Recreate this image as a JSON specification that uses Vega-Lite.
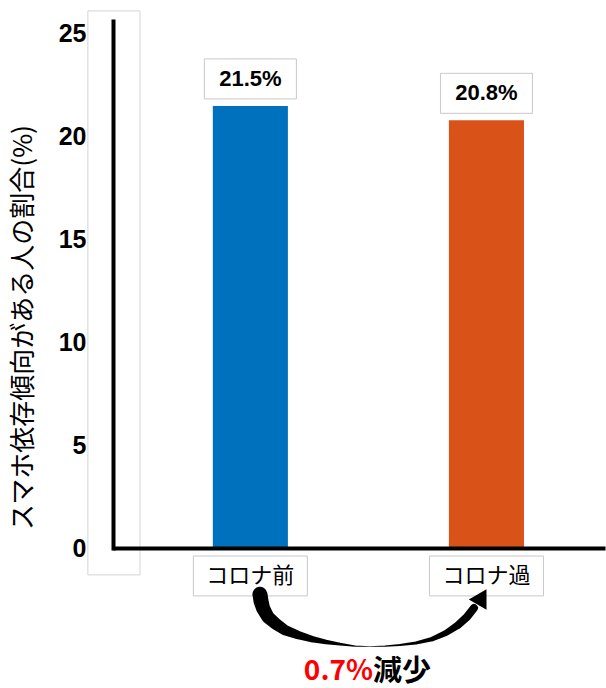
{
  "$schema": "https://vega.github.io/schema/vega-lite/v6.json",
  "width": 492,
  "height": 527,
  "autosize": "none",
  "padding": {"left": 113, "top": 21, "right": 1, "bottom": 140},
  "background": "white",
  "config": {"view": {"stroke": null}},
  "datasets": {
    "bars": [
      {"period": "コロナ前", "value": 21.5, "label": "21.5%"},
      {"period": "コロナ過", "value": 20.8, "label": "20.8%"}
    ],
    "arrow": [
      {"u": 0.040, "v": -2.25, "thickness": 15},
      {"u": 0.045, "v": -2.60, "thickness": 15},
      {"u": 0.053, "v": -2.92, "thickness": 14},
      {"u": 0.074, "v": -3.36, "thickness": 13},
      {"u": 0.108, "v": -3.70, "thickness": 12},
      {"u": 0.146, "v": -3.99, "thickness": 10.5},
      {"u": 0.201, "v": -4.23, "thickness": 8.5},
      {"u": 0.261, "v": -4.43, "thickness": 6.5},
      {"u": 0.320, "v": -4.57, "thickness": 4.5},
      {"u": 0.379, "v": -4.67, "thickness": 2.8},
      {"u": 0.443, "v": -4.77, "thickness": 1.4},
      {"u": 0.506, "v": -4.79, "thickness": 0.6},
      {"u": 0.570, "v": -4.77, "thickness": 1.1},
      {"u": 0.633, "v": -4.72, "thickness": 1.9},
      {"u": 0.701, "v": -4.62, "thickness": 3},
      {"u": 0.769, "v": -4.43, "thickness": 4.5},
      {"u": 0.828, "v": -4.13, "thickness": 6},
      {"u": 0.879, "v": -3.75, "thickness": 7.5},
      {"u": 0.917, "v": -3.36, "thickness": 8},
      {"u": 0.947, "v": -2.92, "thickness": 8}
    ]
  },
  "resolve": {"scale": {"x": "independent"}, "axis": {"x": "independent"}},
  "layer": [
    {
      "data": {"name": "bars"},
      "encoding": {
        "x": {
          "field": "period",
          "type": "nominal",
          "sort": null,
          "scale": {"paddingInner": 0.682, "paddingOuter": 0.383, "align": 0.552},
          "axis": {"labels": false, "ticks": false, "tickSize": 0, "title": null, "domainColor": "black", "domainWidth": 4, "zindex": 1}
        }
      },
      "layer": [
        {
          "mark": {"type": "bar"},
          "encoding": {
            "y": {
              "field": "value",
              "type": "quantitative",
              "scale": {"domain": [0, 25.63], "nice": false, "zero": true},
              "axis": {
                "values": [0, 5, 10, 15, 20, 25],
                "ticks": false,
                "tickSize": 0,
                "grid": false,
                "domainColor": "black",
                "domainWidth": 4,
                "domainCap": "square",
                "labelFont": "Liberation Sans",
                "labelFontWeight": "bold",
                "labelFontSize": 25,
                "labelColor": "black",
                "labelPadding": 27,
                "title": "スマホ依存傾向がある人の割合(%)",
                "titleFont": "Noto Sans CJK JP",
                "titleFontSize": 26,
                "titleFontWeight": "normal",
                "titleColor": "black",
                "titleAngle": -90,
                "titleX": -90,
                "titleY": 306,
                "titleAlign": "center",
                "titleBaseline": "middle",
                "zindex": 1
              }
            },
            "color": {
              "field": "period",
              "type": "nominal",
              "scale": {"domain": ["コロナ前", "コロナ過"], "range": ["#0072BD", "#D95319"]},
              "legend": null
            }
          }
        },
        {
          "mark": {"type": "bar", "width": 92, "fill": "white", "stroke": "#c8c8c8", "strokeWidth": 1, "yOffset": -7, "y2Offset": -47},
          "encoding": {
            "y": {"field": "value", "type": "quantitative"},
            "y2": {"field": "value"}
          }
        },
        {
          "mark": {"type": "text", "font": "Liberation Sans", "fontWeight": "bold", "fontSize": 22, "color": "black", "baseline": "middle", "align": "center", "dy": -27},
          "encoding": {
            "y": {"field": "value", "type": "quantitative"},
            "text": {"field": "label"}
          }
        },
        {
          "mark": {"type": "bar", "width": 114, "fill": "white", "stroke": "#c8c8c8", "strokeWidth": 1},
          "encoding": {
            "y": {"datum": -0.39},
            "y2": {"datum": -2.33}
          }
        },
        {
          "mark": {"type": "text", "font": "Noto Sans CJK JP", "fontSize": 22, "color": "black", "baseline": "middle", "align": "center"},
          "encoding": {
            "y": {"datum": -1.36},
            "text": {"field": "period"}
          }
        }
      ]
    },
    {
      "data": {"values": [{}]},
      "layer": [
        {
          "mark": {"type": "rect", "fill": null, "fillOpacity": 0, "stroke": "#d4d4d4", "strokeWidth": 1},
          "encoding": {
            "x": {"datum": -0.689, "type": "quantitative", "scale": {"domain": [-0.5826, 1.5021], "nice": false, "zero": false}, "axis": null},
            "x2": {"datum": -0.468},
            "y": {"datum": 26.12, "type": "quantitative"},
            "y2": {"datum": -1.31}
          }
        },
        {
          "data": {"name": "arrow"},
          "mark": {"type": "trail", "color": "black"},
          "encoding": {
            "x": {"field": "u", "type": "quantitative", "scale": {"domain": [-0.5826, 1.5021], "nice": false, "zero": false}, "axis": null},
            "y": {"field": "v", "type": "quantitative"},
            "order": {"field": "u"},
            "size": {"field": "thickness", "type": "quantitative", "scale": null, "legend": null}
          }
        },
        {
          "mark": {"type": "point", "shape": "triangle", "filled": true, "color": "black", "size": 420, "angle": 30, "opacity": 1},
          "encoding": {
            "x": {"datum": 0.975, "type": "quantitative", "scale": {"domain": [-0.5826, 1.5021], "nice": false, "zero": false}, "axis": null},
            "y": {"datum": -2.5, "type": "quantitative"}
          }
        },
        {
          "mark": {"type": "text", "text": "0.7%", "font": "Noto Sans CJK JP", "fontWeight": "bold", "fontSize": 28, "color": "#FF0000", "align": "right", "baseline": "middle"},
          "encoding": {
            "x": {"datum": 0.519, "type": "quantitative", "scale": {"domain": [-0.5826, 1.5021], "nice": false, "zero": false}, "axis": null},
            "y": {"datum": -6.03, "type": "quantitative"}
          }
        },
        {
          "mark": {"type": "text", "text": "減少", "font": "Noto Sans CJK JP", "fontWeight": "bold", "fontSize": 29, "color": "black", "align": "left", "baseline": "middle"},
          "encoding": {
            "x": {"datum": 0.519, "type": "quantitative", "scale": {"domain": [-0.5826, 1.5021], "nice": false, "zero": false}, "axis": null},
            "y": {"datum": -6.03, "type": "quantitative"}
          }
        }
      ]
    }
  ]
}
